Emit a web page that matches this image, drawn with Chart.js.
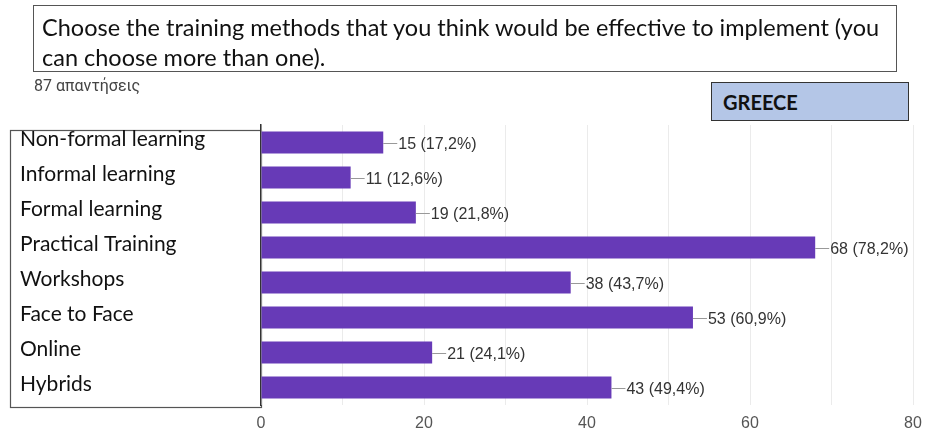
<!DOCTYPE html>
<html><head><meta charset="utf-8">
<script src="https://cdn.jsdelivr.net/npm/chart.js@4/dist/chart.umd.min.js"></script>
<style>
html,body{margin:0;padding:0;background:#fff;}
#wrap{position:relative;width:927px;height:435px;overflow:hidden;}
#c{position:absolute;left:0;top:0;}
.title{position:absolute;left:33px;top:5px;width:864px;height:67px;border:1.5px solid #555;box-sizing:border-box;font-family:Lato,"Open Sans",sans-serif;font-size:23.5px;line-height:30px;color:#111;padding:6px 0 0 8px;white-space:nowrap;}
.sub{position:absolute;left:34px;top:76px;font-family:Roboto,Arial,sans-serif;font-size:16px;color:#444;}
.country{position:absolute;left:711px;top:82px;width:198px;height:39px;box-sizing:border-box;background:#b4c6e7;border:1.5px solid #333;font-family:Lato,"Open Sans",sans-serif;font-weight:bold;font-size:20px;color:#111;padding:7px 0 0 11px;}
</style></head>
<body><div id="wrap">
<canvas id="c" width="927" height="435"></canvas>
<div class="title">Choose the training methods that you think would be effective to implement (you<br>can choose more than one).</div>
<div class="sub">87 απαντήσεις</div>
<div class="country">GREECE</div>
</div>
<script>
const categories = ["Non-formal learning","Informal learning","Formal learning","Practical Training","Workshops","Face to Face","Online","Hybrids"];
const counts = [15, 11, 19, 68, 38, 53, 21, 43];
const percents = ["17,2","12,6","21,8","78,2","43,7","60,9","24,1","49,4"];
const xTicks = [0, 20, 40, 60, 80];

const barLabels = {
  id: 'barLabels',
  afterDatasetsDraw(chart) {
    const ctx = chart.ctx;
    const meta = chart.getDatasetMeta(0);
    ctx.save();
    ctx.font = '16px "Liberation Sans", Arial, sans-serif';
    ctx.textBaseline = 'middle';
    ctx.fillStyle = '#333';
    ctx.strokeStyle = '#999';
    ctx.lineWidth = 1;
    meta.data.forEach((bar, i) => {
      const x = bar.x, y = Math.round(bar.y) + 0.5;
      ctx.beginPath(); ctx.moveTo(x, y); ctx.lineTo(x + 14, y); ctx.stroke();
      ctx.fillText(counts[i] + ' (' + percents[i] + '%)', x + 15, y + 1);
    });
    ctx.restore();
  }
};
const labelBox = {
  id: 'labelBox',
  beforeDraw(chart) {
    const ctx = chart.ctx;
    const y = chart.scales.y;
    ctx.save();
    ctx.strokeStyle = '#555';
    ctx.lineWidth = 1.2;
    ctx.strokeRect(10.5, y.top + 5.5, y.right - 10, y.bottom - y.top - 3);
    ctx.restore();
  }
};

new Chart(document.getElementById('c'), {
  type: 'bar',
  data: { labels: categories, datasets: [{ data: counts, backgroundColor: '#673ab7', borderWidth: 0, barPercentage: 0.7, categoryPercentage: 0.9 }] },
  options: {
    indexAxis: 'y', responsive: false, animation: false,
    layout: { padding: { top: 125, bottom: 0, left: 20, right: 14 } },
    plugins: { legend: { display: false }, tooltip: { enabled: false } },
    scales: {
      x: {
        min: 0, max: 80,
        afterFit(s) { s.height = 30; s.paddingRight = 0; },
        grid: { color: '#ebebeb', drawTicks: false },
        border: { display: false },
        ticks: { stepSize: 10, padding: 9, color: '#555', font: { family: '"Liberation Sans", Arial, sans-serif', size: 16 },
          callback: v => xTicks.includes(v) ? String(v) : '' }
      },
      y: {
        afterFit(s) { s.width = 241; },
        grid: { display: false, drawTicks: false },
        border: { display: true, color: '#333', width: 1.5 },
        ticks: { crossAlign: 'far', padding: 0, labelOffset: -3, color: '#111', font: { family: 'Lato, "Open Sans", sans-serif', size: 21 } }
      }
    }
  },
  plugins: [labelBox, barLabels]
});
</script>
</body></html>
